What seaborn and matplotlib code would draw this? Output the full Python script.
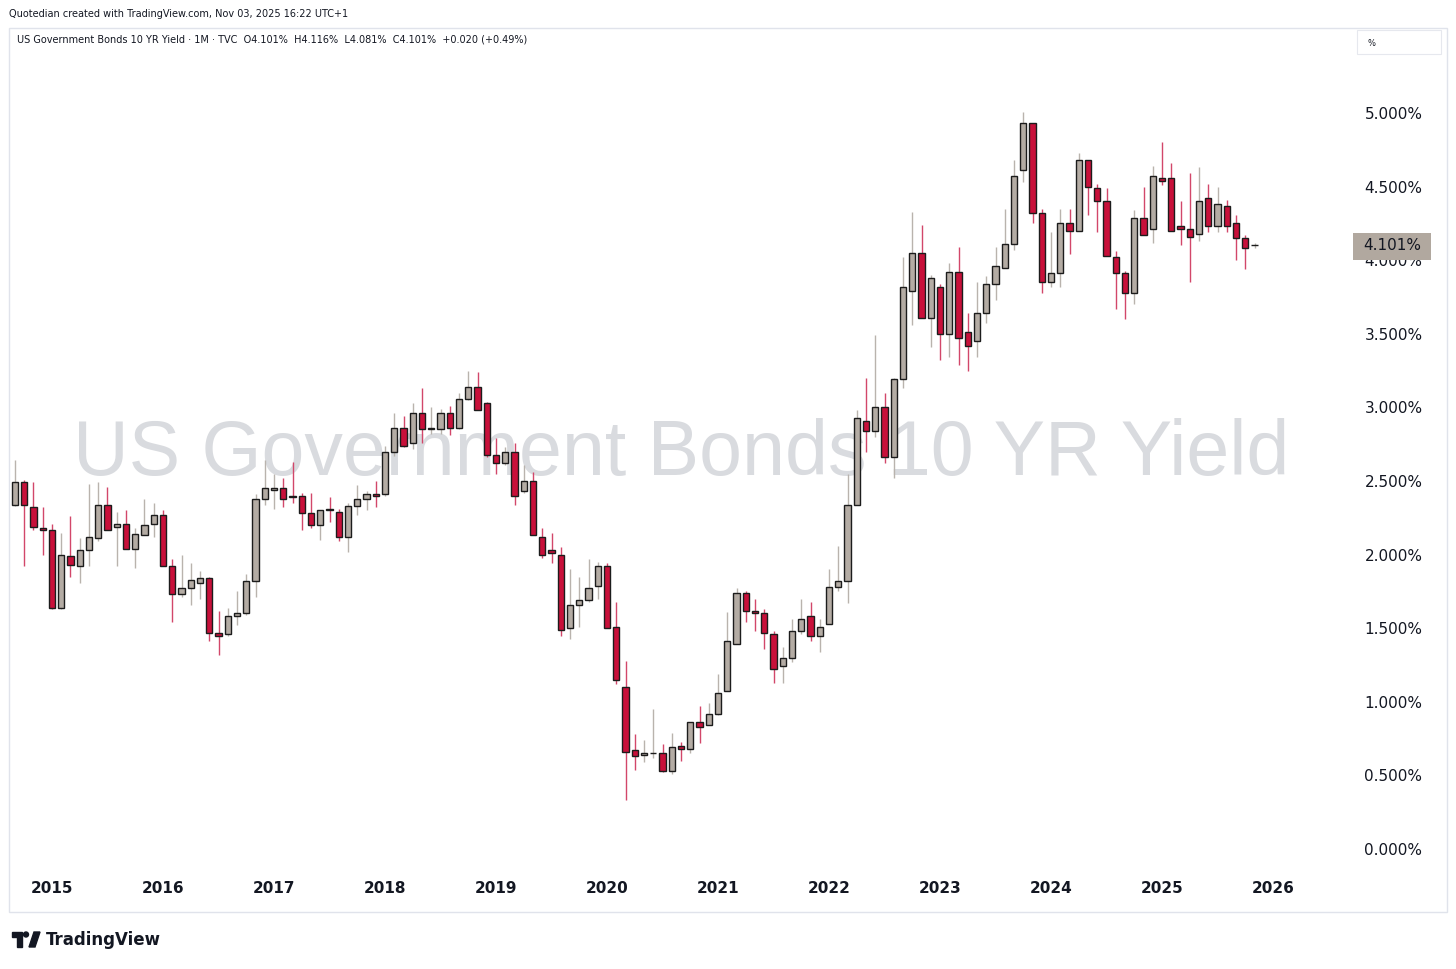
import numpy as np
import pandas as pd
import seaborn as sns
import matplotlib.pyplot as plt
from matplotlib.patches import Rectangle, Polygon, Ellipse
from matplotlib.transforms import blended_transform_factory

# monthly candles, Sep 2014 .. Nov 2025 (US 10Y yield, %)
months = pd.date_range("2014-09-01", periods=135, freq="MS")

opens = [2.34, 2.49, 2.32, 2.18,
         2.17, 1.64, 1.99, 1.92, 2.03, 2.11, 2.34, 2.19, 2.21, 2.04, 2.13, 2.21,
         2.27, 1.92, 1.73, 1.77, 1.81, 1.84, 1.47, 1.46, 1.58, 1.60, 1.82, 2.38,
         2.44, 2.45, 2.40, 2.40, 2.28, 2.20, 2.31, 2.29, 2.12, 2.33, 2.38, 2.41,
         2.41, 2.70, 2.86, 2.76, 2.96, 2.855, 2.85, 2.96, 2.86, 3.06, 3.14, 3.03,
         2.68, 2.62, 2.70, 2.43, 2.50, 2.12, 2.03, 2.00, 1.50, 1.66, 1.69, 1.79,
         1.92, 1.51, 1.10, 0.67, 0.64, 0.649, 0.65, 0.53, 0.70, 0.68, 0.86, 0.84,
         0.92, 1.07, 1.39, 1.74, 1.62, 1.60, 1.46, 1.24, 1.30, 1.48, 1.58, 1.45,
         1.53, 1.78, 1.82, 2.34, 2.91, 2.84, 3.00, 2.66, 3.19, 3.79, 4.05, 3.61,
         3.82, 3.50, 3.92, 3.51, 3.45, 3.64, 3.84, 3.95, 4.11, 4.61, 4.93, 4.32,
         3.85, 3.91, 4.25, 4.20, 4.68, 4.49, 4.40, 4.02, 3.91, 3.78, 4.29, 4.21,
         4.56, 4.56, 4.23, 4.21, 4.18, 4.42, 4.23, 4.37, 4.25, 4.15, 4.101]

highs = [2.64, 2.51, 2.49, 2.32,
         2.21, 2.15, 2.26, 2.11, 2.48, 2.49, 2.46, 2.29, 2.30, 2.18, 2.38, 2.35,
         2.30, 1.97, 2.00, 1.94, 1.89, 1.85, 1.62, 1.64, 1.75, 1.87, 2.41, 2.64,
         2.55, 2.52, 2.63, 2.42, 2.42, 2.30, 2.39, 2.31, 2.35, 2.47, 2.43, 2.50,
         2.74, 2.96, 2.94, 3.03, 3.13, 3.00, 2.99, 3.01, 3.10, 3.25, 3.24, 3.04,
         2.79, 2.73, 2.76, 2.61, 2.56, 2.18, 2.15, 2.05, 1.90, 1.85, 1.97, 1.95,
         1.94, 1.68, 1.28, 0.78, 0.74, 0.95, 0.71, 0.79, 0.73, 0.86, 0.97, 0.99,
         1.19, 1.61, 1.77, 1.75, 1.70, 1.63, 1.48, 1.37, 1.56, 1.70, 1.68, 1.56,
         1.90, 2.06, 2.55, 2.98, 3.20, 3.49, 3.10, 3.20, 4.02, 4.33, 4.24, 3.90,
         3.84, 3.98, 4.09, 3.64, 3.85, 3.89, 4.09, 4.35, 4.68, 5.01, 4.93, 4.35,
         4.19, 4.35, 4.35, 4.73, 4.68, 4.52, 4.49, 4.06, 3.93, 4.34, 4.50, 4.64,
         4.80, 4.66, 4.40, 4.59, 4.63, 4.52, 4.50, 4.41, 4.31, 4.17, 4.116]

lows = [2.33, 1.92, 2.17, 2.00,
        1.63, 1.63, 1.85, 1.81, 1.92, 2.09, 2.17, 1.92, 2.04, 1.91, 2.13, 2.12,
        1.92, 1.54, 1.71, 1.66, 1.70, 1.41, 1.32, 1.45, 1.52, 1.59, 1.71, 2.34,
        2.31, 2.32, 2.35, 2.17, 2.18, 2.10, 2.22, 2.09, 2.02, 2.27, 2.30, 2.32,
        2.40, 2.67, 2.73, 2.72, 2.76, 2.82, 2.82, 2.81, 2.85, 3.05, 2.98, 2.66,
        2.55, 2.61, 2.34, 2.42, 2.13, 1.98, 1.94, 1.45, 1.43, 1.51, 1.68, 1.70,
        1.50, 1.12, 0.33, 0.54, 0.59, 0.62, 0.52, 0.51, 0.60, 0.65, 0.72, 0.84,
        0.91, 1.07, 1.39, 1.54, 1.48, 1.36, 1.13, 1.13, 1.27, 1.46, 1.41, 1.34,
        1.53, 1.75, 1.67, 2.34, 2.70, 2.80, 2.62, 2.52, 3.13, 3.56, 3.61, 3.41,
        3.32, 3.34, 3.29, 3.25, 3.34, 3.57, 3.73, 3.95, 4.07, 4.53, 4.25, 3.78,
        3.82, 3.82, 4.04, 4.20, 4.31, 4.19, 4.03, 3.67, 3.60, 3.70, 4.17, 4.12,
        4.51, 4.20, 4.10, 3.85, 4.13, 4.19, 4.19, 4.19, 4.00, 3.94, 4.081]

closes = [2.49, 2.34, 2.19, 2.17,
          1.64, 2.00, 1.93, 2.03, 2.12, 2.34, 2.17, 2.21, 2.04, 2.14, 2.20, 2.27,
          1.92, 1.73, 1.77, 1.83, 1.84, 1.47, 1.45, 1.58, 1.60, 1.82, 2.38, 2.45,
          2.45, 2.38, 2.39, 2.28, 2.20, 2.30, 2.30, 2.12, 2.33, 2.38, 2.41, 2.40,
          2.70, 2.86, 2.74, 2.96, 2.85, 2.86, 2.96, 2.86, 3.06, 3.14, 2.98, 2.68,
          2.62, 2.70, 2.40, 2.50, 2.13, 2.00, 2.01, 1.49, 1.66, 1.69, 1.77, 1.92,
          1.50, 1.15, 0.66, 0.63, 0.65, 0.65, 0.53, 0.69, 0.68, 0.86, 0.83, 0.92,
          1.06, 1.41, 1.74, 1.62, 1.60, 1.47, 1.22, 1.30, 1.48, 1.56, 1.45, 1.51,
          1.78, 1.82, 2.34, 2.93, 2.84, 3.00, 2.66, 3.19, 3.82, 4.05, 3.61, 3.88,
          3.50, 3.92, 3.47, 3.42, 3.64, 3.84, 3.96, 4.11, 4.57, 4.93, 4.32, 3.85,
          3.91, 4.25, 4.20, 4.68, 4.50, 4.40, 4.03, 3.91, 3.78, 4.29, 4.17, 4.57,
          4.54, 4.20, 4.21, 4.16, 4.40, 4.23, 4.38, 4.23, 4.15, 4.08, 4.101]

price_ticks = np.arange(0, 5.01, 0.5)
last_price = closes[-1]
symbol = "US Government Bonds 10 YR Yield"
legend_line = ("US Government Bonds 10 YR Yield \u00b7 1M \u00b7 TVC  O4.101%  H4.116%  "
               "L4.081%  C4.101%  +0.020 (+0.49%)")
header = "Quotedian created with TradingView.com, Nov 03, 2025 16:22 UTC+1"

UP_FILL, UP_WICK = "#b4aca4", "#b9b3ad"
DN_FILL, DN_WICK = "#c8103a", "#d2476a"
EDGE = "#1c1c1c"
TXT = "#131722"

sns.set_theme(style="white")
plt.rcParams['font.family'] = ['DejaVu Sans']

W, H = 1456, 969
fig = plt.figure(figsize=(W / 100, H / 100), dpi=100)
fig.patch.set_facecolor("white")


def px_rect(x0, y0, x1, y1):
    # pixel box (origin top-left) -> figure fraction [l, b, w, h]
    return [x0 / W, 1 - y1 / H, (x1 - x0) / W, (y1 - y0) / H]


ax = fig.add_axes(px_rect(10, 28, 1345, 870))
ax.set_facecolor("white")

o = np.array(opens)
h = np.array(highs)
l = np.array(lows)
c = np.array(closes)
x = np.arange(len(months))
up = c >= o

ax.vlines(x, l, h, colors=np.where(up, UP_WICK, DN_WICK), lw=1.0, zorder=2)
body = np.maximum(np.abs(c - o), 0.004)
ax.bar(x, body, bottom=np.minimum(o, c), width=0.66,
       color=np.where(up, UP_FILL, DN_FILL), edgecolor=EDGE, linewidth=1.0, zorder=3)

# watermark
ax.text((681 - 10) / 1335, (870 - 475) / 842, symbol, transform=ax.transAxes,
        ha="center", va="baseline", fontsize=55.5, family="Liberation Sans",
        color="#d9dbdf", zorder=0)

ax.set_xlim(-0.54, 143.78)
ax.set_ylim((849 - 870) / 147.2, (849 - 28) / 147.2)

jan = [i for i, m in enumerate(months) if m.month == 1] + [len(months) + 1]
ax.set_xticks(jan)
ax.set_xticklabels([str(2015 + k) for k in range(len(jan))], fontsize=11,
                   fontweight="bold", color=TXT)
ax.yaxis.tick_right()
ax.set_yticks(price_ticks)
ax.set_yticklabels([f"{v:.3f}%" for v in price_ticks], fontsize=11, color=TXT)
ax.tick_params(axis="x", length=0, pad=8)
ax.tick_params(axis="y", length=0, pad=14)
ax.grid(False)
sns.despine(ax=ax, left=True, bottom=True, right=True, top=True)

# last price label on the scale
bt = blended_transform_factory(ax.transAxes, ax.transData)
ax.add_patch(Rectangle(((1353 - 10) / 1335, (849 - 260) / 147.2),
                       (1431 - 1353) / 1335, 27 / 147.2, transform=bt,
                       facecolor="#b1a89f", edgecolor="none", clip_on=False, zorder=5))
ax.text((1392 - 10) / 1335, last_price, f"{last_price:.3f}%", transform=bt,
        ha="center", va="center", fontsize=11, color=TXT, clip_on=False, zorder=6)

# frame, header, legend
fig.add_artist(Rectangle((9 / W, 1 - 912 / H), (1447 - 9) / W, (912 - 28) / H,
                         transform=fig.transFigure, fill=False,
                         edgecolor="#e0e3eb", lw=1.0))
fig.add_artist(Rectangle((1357 / W, 1 - 54 / H), 84 / W, 24 / H,
                         transform=fig.transFigure, fill=False,
                         edgecolor="#e6e8ee", lw=0.8))
fig.text(1367 / W, 1 - 43 / H, "%", fontsize=6, color=TXT, va="center")
fig.text(9 / W, 1 - 14 / H, header, fontsize=7, color=TXT, va="center")
fig.text(17 / W, 1 - 40 / H, legend_line, fontsize=7, color=TXT, va="center")

# TradingView logo, bottom left
fig.add_artist(Polygon([(12 / W, 1 - 932 / H), (22 / W, 1 - 932 / H), (22 / W, 1 - 947 / H),
                        (17 / W, 1 - 947 / H), (17 / W, 1 - 937 / H), (12 / W, 1 - 937 / H)],
                       closed=True, transform=fig.transFigure, color="#131722"))
fig.add_artist(Ellipse((26 / W, 1 - 934.5 / H), 5 / W, 5 / H,
                       transform=fig.transFigure, color="#131722"))
fig.add_artist(Polygon([(29 / W, 1 - 947 / H), (34 / W, 1 - 932 / H), (40 / W, 1 - 932 / H),
                        (35 / W, 1 - 947 / H)],
                       closed=True, transform=fig.transFigure, color="#131722"))
fig.text(46 / W, 1 - 940 / H, "TradingView", fontsize=12, fontweight="bold",
         color="#131722", va="center")

fig.savefig("out.png", dpi=100, facecolor="white")
